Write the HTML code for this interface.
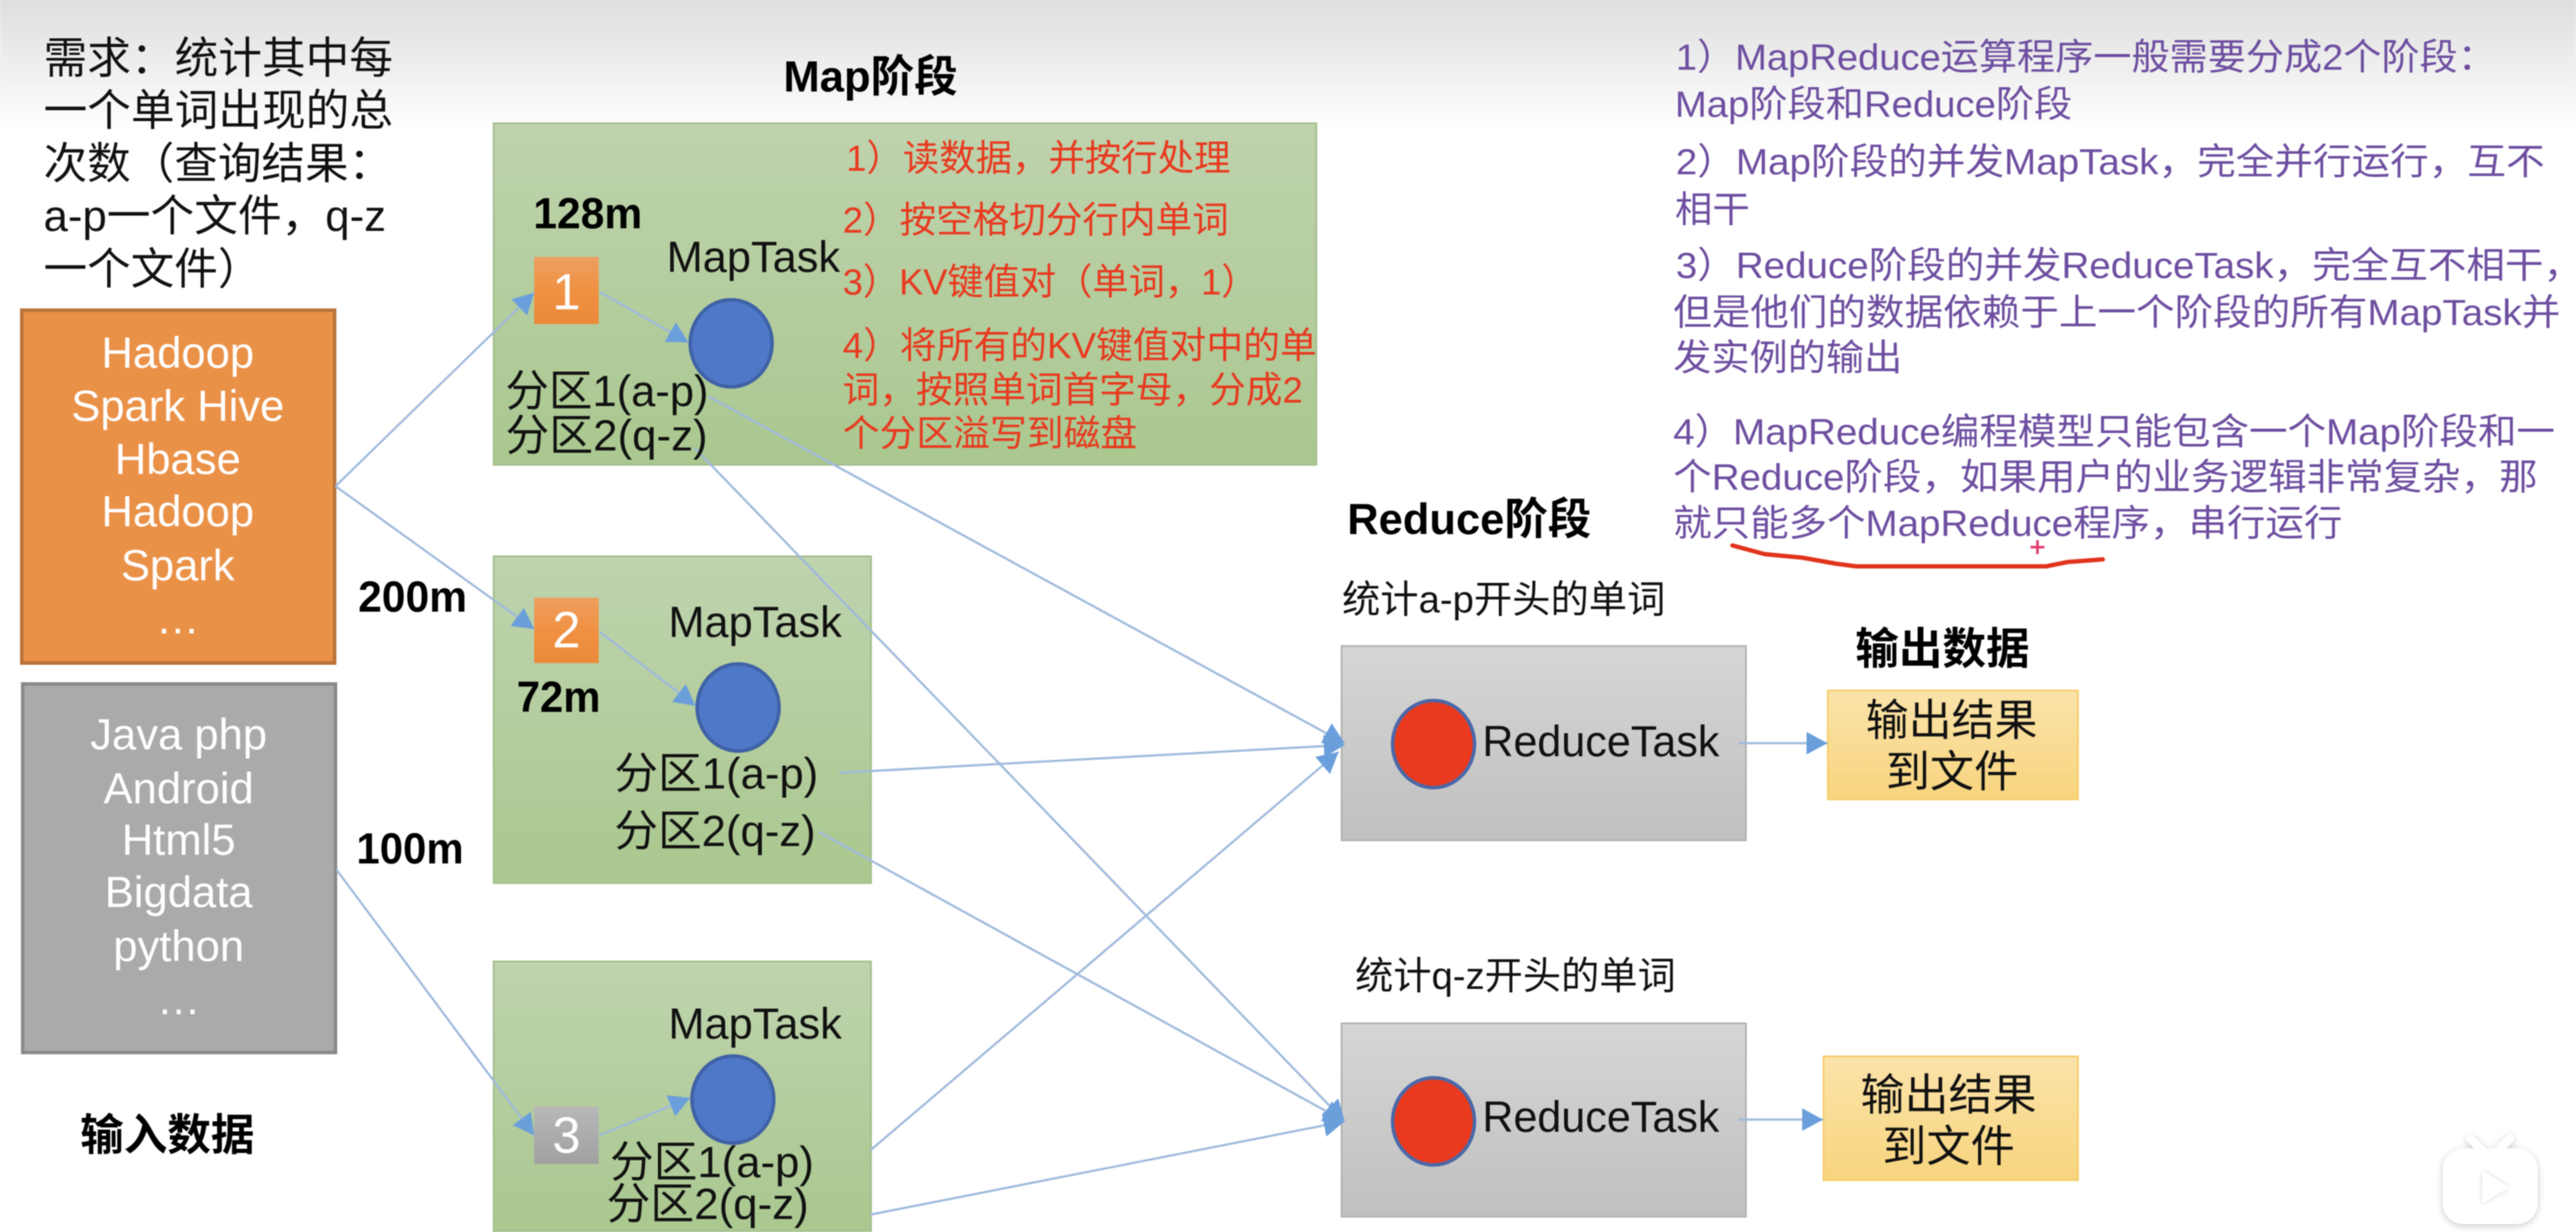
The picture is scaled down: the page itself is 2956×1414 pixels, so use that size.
<!DOCTYPE html>
<html lang="zh-CN">
<head>
<meta charset="utf-8">
<title>MapReduce</title>
<style>
html,body{margin:0;padding:0;background:#fff;width:2956px;height:1414px;overflow:hidden}
svg{display:block;filter:blur(.6px)}
text{font-family:"Liberation Sans","Noto Sans CJK SC",sans-serif}
.b{font-weight:700;fill:#000;font-size:50px}
.k{fill:#111;font-size:50px}
.w{fill:#fff;font-size:50px;text-anchor:middle}
.r{fill:#e8391f;font-size:42px}
.p{fill:#6d4ea0;font-size:42px}
</style>
</head>
<body>
<svg width="2956" height="1414" viewBox="0 0 2956 1414" xmlns="http://www.w3.org/2000/svg">
<defs>
<linearGradient id="top" x1="0" y1="0" x2="0" y2="1"><stop offset="0" stop-color="#dedede"/><stop offset="1" stop-color="#fff"/></linearGradient>
<linearGradient id="green" x1="0" y1="0" x2="0" y2="1"><stop offset="0" stop-color="#bfd3ae"/><stop offset="1" stop-color="#aac88f"/></linearGradient>
<linearGradient id="gray" x1="0" y1="0" x2="0" y2="1"><stop offset="0" stop-color="#d6d6d6"/><stop offset="1" stop-color="#c0c0c0"/></linearGradient>
<linearGradient id="yel" x1="0" y1="0" x2="0" y2="1"><stop offset="0" stop-color="#fbe3aa"/><stop offset="1" stop-color="#f8d57e"/></linearGradient>
<linearGradient id="or" x1="0" y1="0" x2="0" y2="1"><stop offset="0" stop-color="#ee9f60"/><stop offset=".55" stop-color="#f09040"/><stop offset="1" stop-color="#e98a3a"/></linearGradient>
<linearGradient id="gs" x1="0" y1="0" x2="0" y2="1"><stop offset="0" stop-color="#b8b8b8"/><stop offset="1" stop-color="#a0a0a0"/></linearGradient>
<marker id="a" markerUnits="userSpaceOnUse" markerWidth="26" markerHeight="28" refX="24" refY="13" orient="auto"><path d="M0 0L24 13L0 26Z" fill="#6b9fdb"/></marker>
<filter id="sh" x="-20%" y="-20%" width="140%" height="140%"><feDropShadow dx="0" dy="2" stdDeviation="4" flood-color="#000" flood-opacity=".22"/></filter>
<filter id="sh2" x="-30%" y="-30%" width="160%" height="160%"><feDropShadow dx="0" dy="0" stdDeviation="3" flood-color="#000" flood-opacity=".18"/></filter>
</defs>

<rect x="0" y="0" width="2956" height="150" fill="url(#top)"/>

<!-- input boxes -->
<rect x="25" y="356" width="359" height="405" fill="#ea9148" stroke="#b9733a" stroke-width="4"/>
<rect x="26" y="785" width="359" height="423" fill="#aaaaaa" stroke="#8a8a8a" stroke-width="4"/>

<!-- map boxes -->
<rect x="566.5" y="141.5" width="944" height="392" fill="url(#green)" stroke="#a3bd8c" stroke-width="2"/>
<rect x="566.5" y="638.5" width="433" height="375" fill="url(#green)" stroke="#a3bd8c" stroke-width="2"/>
<rect x="566.5" y="1103.5" width="433" height="310" fill="url(#green)" stroke="#a3bd8c" stroke-width="2"/>

<!-- squares -->
<rect x="613" y="295" width="74" height="77" fill="url(#or)"/>
<rect x="613" y="686" width="74" height="75" fill="url(#or)"/>
<rect x="613" y="1270" width="74" height="66" fill="url(#gs)"/>

<!-- circles -->
<ellipse cx="839" cy="394" rx="47" ry="50" fill="#5078c8" stroke="#3f62a6" stroke-width="4"/>
<ellipse cx="847" cy="812" rx="47" ry="50" fill="#5078c8" stroke="#3f62a6" stroke-width="4"/>
<ellipse cx="841" cy="1262" rx="47" ry="50" fill="#5078c8" stroke="#3f62a6" stroke-width="4"/>

<!-- reduce boxes -->
<rect x="1539.5" y="741.5" width="464" height="223" fill="url(#gray)" stroke="#b2b2b2" stroke-width="2"/>
<rect x="1539.5" y="1174.5" width="464" height="222" fill="url(#gray)" stroke="#b2b2b2" stroke-width="2"/>
<ellipse cx="1645" cy="854" rx="47" ry="50" fill="#e93a20" stroke="#4a68a8" stroke-width="4"/>
<ellipse cx="1645" cy="1287" rx="47" ry="50" fill="#e93a20" stroke="#4a68a8" stroke-width="4"/>

<!-- output boxes -->
<rect x="2097.5" y="792.5" width="287" height="125" fill="url(#yel)" stroke="#f6cd6a" stroke-width="2"/>
<rect x="2092.5" y="1212.5" width="292" height="142" fill="url(#yel)" stroke="#f6cd6a" stroke-width="2"/>

<!-- connectors -->
<g stroke="#9fbadc" stroke-width="2.5" fill="none">
<line x1="385" y1="558" x2="613" y2="336" marker-end="url(#a)"/>
<line x1="385" y1="558" x2="613" y2="722" marker-end="url(#a)"/>
<line x1="386" y1="998" x2="613" y2="1303" marker-end="url(#a)"/>
<line x1="688" y1="335" x2="790" y2="393" marker-end="url(#a)"/>
<line x1="688" y1="725" x2="798" y2="810" marker-end="url(#a)"/>
<line x1="688" y1="1303" x2="792" y2="1260" marker-end="url(#a)"/>
<line x1="813" y1="455" x2="1543" y2="853" marker-end="url(#a)"/>
<line x1="797" y1="514" x2="1543" y2="1287" marker-end="url(#a)"/>
<line x1="963" y1="887" x2="1543" y2="855" marker-end="url(#a)"/>
<line x1="940" y1="955" x2="1543" y2="1287" marker-end="url(#a)"/>
<line x1="999" y1="1320" x2="1536" y2="863" marker-end="url(#a)"/>
<line x1="999" y1="1394" x2="1543" y2="1287" marker-end="url(#a)"/>
<line x1="1995" y1="853" x2="2097" y2="853" marker-end="url(#a)"/>
<line x1="1995" y1="1285" x2="2092" y2="1285" marker-end="url(#a)"/>
</g>

<!-- requirement text -->
<text class="k" x="50" y="84" textLength="401" lengthAdjust="spacingAndGlyphs">需求：统计其中每</text>
<text class="k" x="50" y="144" textLength="401" lengthAdjust="spacingAndGlyphs">一个单词出现的总</text>
<text class="k" x="50" y="205">次数（查询结果：</text>
<text class="k" x="50" y="265" textLength="393" lengthAdjust="spacingAndGlyphs">a-p一个文件，q-z</text>
<text class="k" x="50" y="326">一个文件）</text>

<!-- input text -->
<text class="w" x="204" y="422">Hadoop</text>
<text class="w" x="204" y="483">Spark Hive</text>
<text class="w" x="204" y="544">Hbase</text>
<text class="w" x="204" y="604">Hadoop</text>
<text class="w" x="204" y="666">Spark</text>
<text class="w" x="204" y="727">…</text>
<text class="w" x="205" y="860">Java php</text>
<text class="w" x="205" y="922">Android</text>
<text class="w" x="205" y="981">Html5</text>
<text class="w" x="205" y="1041">Bigdata</text>
<text class="w" x="205" y="1103">python</text>
<text class="w" x="205" y="1164">…</text>
<text class="b" x="92" y="1320">输入数据</text>

<!-- headings and sizes -->
<text class="b" x="899" y="105">Map阶段</text>
<text class="b" x="612" y="262" textLength="125" lengthAdjust="spacingAndGlyphs">128m</text>
<text class="b" x="411" y="702" textLength="125" lengthAdjust="spacingAndGlyphs">200m</text>
<text class="b" x="593" y="817" textLength="96" lengthAdjust="spacingAndGlyphs">72m</text>
<text class="b" x="409" y="991" textLength="123" lengthAdjust="spacingAndGlyphs">100m</text>

<!-- numbers -->
<text class="w" x="650" y="355" style="font-size:58px">1</text>
<text class="w" x="650" y="743" style="font-size:58px">2</text>
<text class="w" x="650" y="1323" style="font-size:58px">3</text>

<!-- map labels -->
<text class="k" x="765" y="312" textLength="199" lengthAdjust="spacingAndGlyphs">MapTask</text>
<text class="k" x="767" y="731" textLength="199" lengthAdjust="spacingAndGlyphs">MapTask</text>
<text class="k" x="767" y="1192" textLength="199" lengthAdjust="spacingAndGlyphs">MapTask</text>
<text class="k" x="580" y="466" textLength="233" lengthAdjust="spacingAndGlyphs">分区1(a-p)</text>
<text class="k" x="580" y="517" textLength="232" lengthAdjust="spacingAndGlyphs">分区2(q-z)</text>
<text class="k" x="705" y="905" textLength="234" lengthAdjust="spacingAndGlyphs">分区1(a-p)</text>
<text class="k" x="705" y="971" textLength="231" lengthAdjust="spacingAndGlyphs">分区2(q-z)</text>
<text class="k" x="700" y="1351" textLength="234" lengthAdjust="spacingAndGlyphs">分区1(a-p)</text>
<text class="k" x="696" y="1399" textLength="232" lengthAdjust="spacingAndGlyphs">分区2(q-z)</text>

<!-- red steps -->
<text class="r" x="971" y="196" textLength="441" lengthAdjust="spacingAndGlyphs">1）读数据，并按行处理</text>
<text class="r" x="967" y="267" textLength="443" lengthAdjust="spacingAndGlyphs">2）按空格切分行内单词</text>
<text class="r" x="967" y="338" textLength="476" lengthAdjust="spacingAndGlyphs">3）KV键值对（单词，1）</text>
<text class="r" x="967" y="411" textLength="544" lengthAdjust="spacingAndGlyphs">4）将所有的KV键值对中的单</text>
<text class="r" x="967" y="462" textLength="528" lengthAdjust="spacingAndGlyphs">词，按照单词首字母，分成2</text>
<text class="r" x="967" y="512" textLength="338" lengthAdjust="spacingAndGlyphs">个分区溢写到磁盘</text>

<!-- purple notes -->
<text class="p" x="1923" y="80" textLength="941" lengthAdjust="spacingAndGlyphs">1）MapReduce运算程序一般需要分成2个阶段：</text>
<text class="p" x="1922" y="134" textLength="456" lengthAdjust="spacingAndGlyphs">Map阶段和Reduce阶段</text>
<text class="p" x="1923" y="200" textLength="997" lengthAdjust="spacingAndGlyphs">2）Map阶段的并发MapTask，完全并行运行，互不</text>
<text class="p" x="1922" y="255" textLength="86" lengthAdjust="spacingAndGlyphs">相干</text>
<text class="p" x="1923" y="319" textLength="1040" lengthAdjust="spacingAndGlyphs">3）Reduce阶段的并发ReduceTask，完全互不相干，</text>
<text class="p" x="1920" y="373" textLength="1018" lengthAdjust="spacingAndGlyphs">但是他们的数据依赖于上一个阶段的所有MapTask并</text>
<text class="p" x="1920" y="425" textLength="263" lengthAdjust="spacingAndGlyphs">发实例的输出</text>
<text class="p" x="1920" y="510" textLength="1012" lengthAdjust="spacingAndGlyphs">4）MapReduce编程模型只能包含一个Map阶段和一</text>
<text class="p" x="1920" y="562" textLength="992" lengthAdjust="spacingAndGlyphs">个Reduce阶段，如果用户的业务逻辑非常复杂，那</text>
<text class="p" x="1920" y="615" textLength="768" lengthAdjust="spacingAndGlyphs">就只能多个MapReduce程序，串行运行</text>

<!-- hand-drawn underline -->
<path d="M1988 626L2025 636L2068 640L2107 647L2130 650L2348 650L2373 645L2413 642" fill="none" stroke="#e0341c" stroke-width="5" stroke-linecap="round" stroke-linejoin="round"/>
<path d="M2338 620V636M2330 628H2346" stroke="#e0406a" stroke-width="3" fill="none"/>

<!-- reduce labels -->
<text class="b" x="1546" y="613" textLength="280" lengthAdjust="spacingAndGlyphs">Reduce阶段</text>
<text class="k" x="1540" y="703" style="font-size:44px" textLength="371" lengthAdjust="spacingAndGlyphs">统计a-p开头的单词</text>
<text class="k" x="1555" y="1135" style="font-size:44px" textLength="368" lengthAdjust="spacingAndGlyphs">统计q-z开头的单词</text>
<text class="k" x="1701" y="868" textLength="272" lengthAdjust="spacingAndGlyphs">ReduceTask</text>
<text class="k" x="1701" y="1299" textLength="272" lengthAdjust="spacingAndGlyphs">ReduceTask</text>

<!-- output labels -->
<text class="b" x="2129" y="762">输出数据</text>
<text class="k" x="2141" y="844" textLength="197" lengthAdjust="spacingAndGlyphs">输出结果</text>
<text class="k" x="2164" y="903" textLength="152" lengthAdjust="spacingAndGlyphs">到文件</text>
<text class="k" x="2135" y="1274" textLength="202" lengthAdjust="spacingAndGlyphs">输出结果</text>
<text class="k" x="2160" y="1333" textLength="152" lengthAdjust="spacingAndGlyphs">到文件</text>

<!-- corner play badge -->
<g filter="url(#sh)">
<path d="M2835 1307L2848 1320M2880 1307L2867 1320" stroke="#fff" stroke-width="10" stroke-linecap="round" fill="none"/>
<rect x="2803" y="1318" width="109" height="87" rx="24" fill="#fff"/>
</g>
<path d="M2849 1346Q2848 1344 2851 1345L2877 1361Q2879 1362 2877 1364L2851 1380Q2848 1381 2848 1378Z" fill="#fff" filter="url(#sh2)"/>
</svg>
</body>
</html>
